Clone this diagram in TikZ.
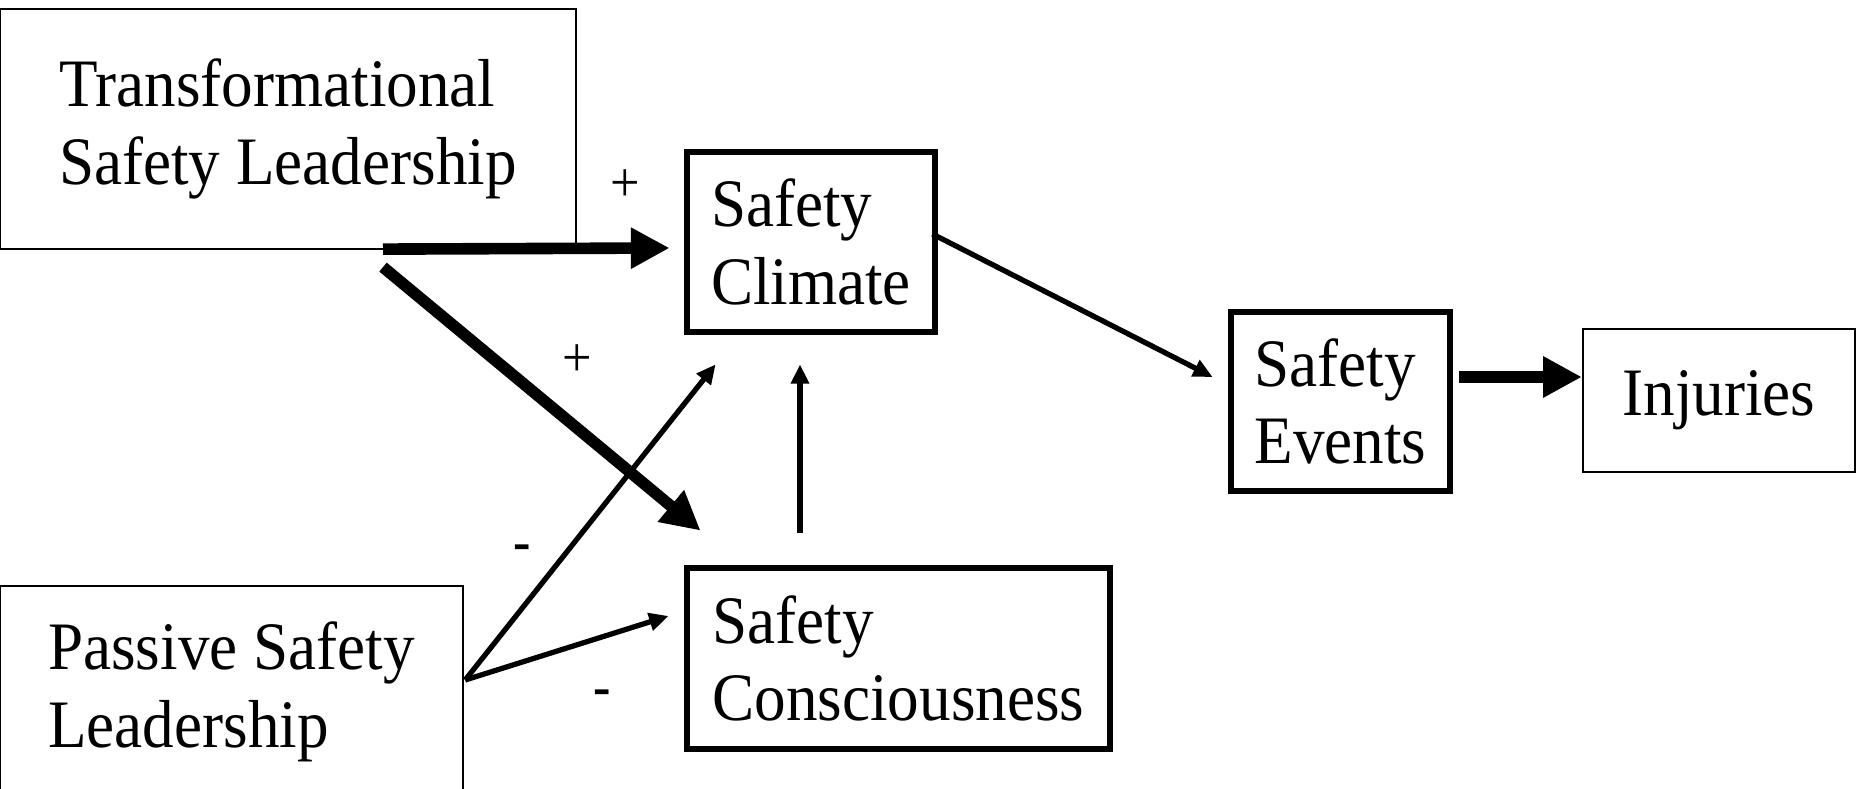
\documentclass[tikz,border=0pt]{standalone}
\usepackage{fontspec}
\setmainfont{Liberation Serif}[FakeStretch=0.93]
\usetikzlibrary{arrows.meta}

\begin{document}
\begin{tikzpicture}[x=0.01cm, y=-0.01cm,
    box/.style = {draw, line width=0.6pt, align=left, inner sep=0pt, font=\fontsize{19.3}{22}\selectfont},
    var/.style = {box, line width=1.9pt},
    big/.style = {line width=3.3pt, -{Triangle[length=11pt,width=11pt]}},
    small/.style = {line width=1.5pt, -{Triangle[length=5.5pt,width=5pt]}},
    sign/.style = {font=\fontsize{16}{18}\selectfont}]
    \useasboundingbox (0,0) rectangle (1861,789);

    \node[box, minimum width=5.76cm, minimum height=2.4cm] (tsl) at (288,129) {Transformational\\Safety Leadership};
    \node[box, minimum width=4.63cm, anchor=north, inner ysep=0.36cm, text depth=3cm] (psl) at (231.5,585) {Passive Safety\\Leadership};
    \node[var, minimum width=2.48cm, minimum height=1.8cm] (sc) at (811,242) {Safety\\Climate};
    \node[var, minimum width=4.23cm, minimum height=1.81cm] (scons) at (898.5,658.5) {Safety\\Consciousness};
    \node[var, minimum width=2.19cm, minimum height=1.79cm] (se) at (1340.5,401.5) {Safety\\Events};
    \node[box, minimum width=2.72cm, minimum height=1.43cm] (inj) at (1719,400.5) {Injuries};

    \node[sign] (p1) at (625,186) {+};
    \node[sign] (p2) at (577,361) {+};
    \node[sign] (m1) at (522,553) {\bfseries -};
    \node[sign] (m2) at (602,698) {\bfseries -};

    \draw[big] ([shift={(95,-1)}]tsl.south) -- ([shift={(-14,6)}]sc.west);
    \draw[big] ([shift={(95,17)}]tsl.south) -- ([shift={(17,-34)}]scons.north west);
    \draw[small] ([shift={(1,95)}]psl.north east) -- ([shift={(32,29)}]sc.south west);
    \draw[small] ([shift={(1,95)}]psl.north east) -- ([shift={(-15,-42.5)}]scons.west);
    \draw[small] ([shift={(-98.5,-32)}]scons.north) -- ([shift={(-11,29)}]sc.south);
    \draw[small] ([shift={(-6,-8)}]sc.east) -- ([shift={(-15,-24.5)}]se.west);
    \draw[big] ([shift={(6,-24.5)}]se.east) -- ([shift={(0,-23.5)}]inj.west);
\end{tikzpicture}
\end{document}
